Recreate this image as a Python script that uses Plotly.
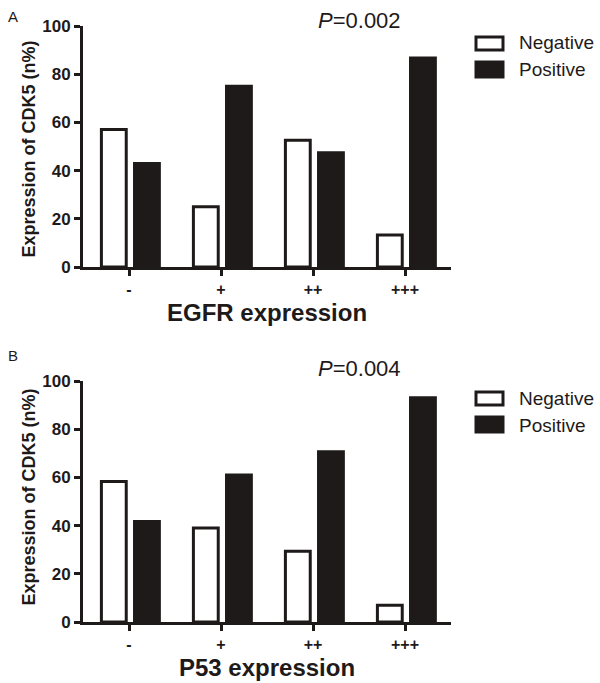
import plotly.graph_objects as go

W, H = 600, 683

categories = ["-", "+", "++", "+++"]
series_names = ["Negative", "Positive"]

egfr_negative = [57.1, 25.0, 52.6, 13.3]
egfr_positive = [42.9, 75.0, 47.4, 86.7]
p53_negative = [58.3, 39.0, 29.4, 6.9]
p53_positive = [41.7, 61.0, 70.6, 93.1]

y_ticks = [0, 20, 40, 60, 80, 100]
panel_labels = ["A", "B"]
p_values = ["<i>P</i>=0.002", "<i>P</i>=0.004"]
x_titles = ["EGFR expression", "P53 expression"]
y_title = "Expression of CDK5 (n%)"

DARK = "#1f1a1a"
FONT = "Liberation Sans, Arial, sans-serif"

def px(x):
    return x / W

def py(y):
    return 1 - y / H

x_left, x_right = 83, 451
panels = [
    dict(top=26, bottom=267, neg=egfr_negative, pos=egfr_positive,
         label_y=16, p_y=20, xt_y=313, yt_y=149, leg=[(37, 50, 43), (62, 77, 70)]),
    dict(top=381, bottom=622, neg=p53_negative, pos=p53_positive,
         label_y=355, p_y=368, xt_y=667, yt_y=497, leg=[(392, 405, 398), (417, 432, 425)]),
]

fig = go.Figure()
shapes = []
annotations = []

def ann(x, y, text, size, bold=False, angle=0, xanchor="center"):
    f = dict(family=FONT, size=size, color=DARK)
    if bold:
        f["weight"] = "bold"
    return dict(x=px(x), y=py(y), xref="paper", yref="paper", text=text,
                showarrow=False, textangle=angle, xanchor=xanchor,
                yanchor="middle", font=f)

for i, p in enumerate(panels):
    xa = "x" if i == 0 else "x2"
    ya = "y" if i == 0 else "y2"
    for name, vals, fill in [(series_names[0], p["neg"], "white"), (series_names[1], p["pos"], DARK)]:
        fig.add_trace(go.Bar(
            x=categories, y=vals, name=name, xaxis=xa, yaxis=ya,
            width=0.27, offset=-0.30 if fill == "white" else 0.06,
            marker=dict(color=fill, line=dict(color=DARK, width=3)),
            showlegend=False, hoverinfo="skip",
        ))
    key = "" if i == 0 else "2"
    fig.layout["xaxis" + key] = dict(
        domain=[px(x_left), px(x_right)], anchor=ya, type="category",
        range=[-0.5, 3.5], showline=True, linecolor=DARK, linewidth=3,
        ticks="outside", ticklen=6, tickwidth=3, tickcolor=DARK,
        showgrid=False, zeroline=False, automargin=False,
        tickfont=dict(family=FONT, size=16, color=DARK, weight="bold"),
    )
    fig.layout["yaxis" + key] = dict(
        domain=[py(p["bottom"]), py(p["top"])], anchor=xa,
        range=[0, 100], tickvals=y_ticks, showline=True, linecolor=DARK,
        linewidth=3, ticks="outside", ticklen=6, tickwidth=3, tickcolor=DARK,
        showgrid=False, zeroline=False, automargin=False,
        tickfont=dict(family=FONT, size=17, color=DARK, weight="bold"),
    )
    annotations.append(ann(13, p["label_y"], panel_labels[i], 15))
    annotations.append(ann(359, p["p_y"], p_values[i], 22))
    annotations.append(ann(28.5, p["yt_y"], y_title, 18, bold=True, angle=-90))
    annotations.append(ann(267, p["xt_y"], x_titles[i], 24, bold=True))
    for (y0, y1, ty), name, fill in zip(p["leg"], series_names, ["white", DARK]):
        shapes.append(dict(type="rect", xref="paper", yref="paper",
                           x0=px(476), x1=px(503), y0=py(y1), y1=py(y0),
                           fillcolor=fill, line=dict(color=DARK, width=3)))
        annotations.append(ann(517, ty, name, 19, xanchor="left"))

fig.update_layout(
    width=W, height=H, margin=dict(l=0, r=0, t=0, b=0, autoexpand=False),
    paper_bgcolor="white", plot_bgcolor="white",
    barmode="overlay", shapes=shapes, annotations=annotations,
    showlegend=False,
)

fig.write_html("out.html", config={"displayModeBar": False},
               post_script="document.body.style.margin='0';document.body.style.overflow='hidden';")
